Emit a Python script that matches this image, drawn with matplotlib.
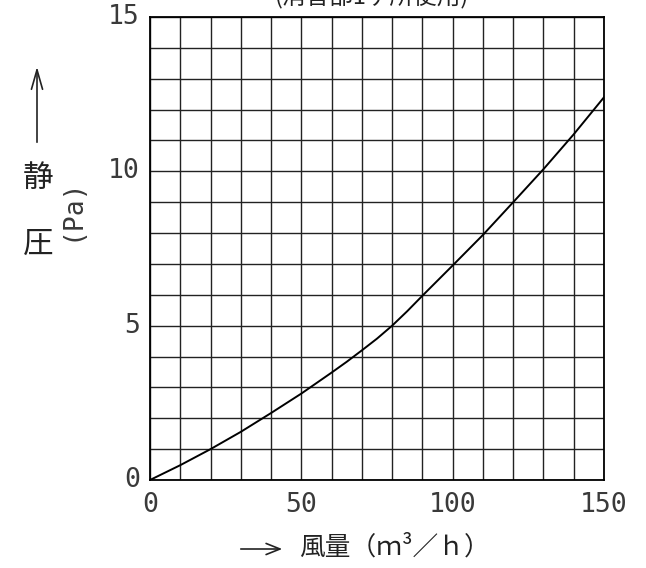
import matplotlib
matplotlib.use("Agg")
import matplotlib.pyplot as plt
import numpy as np

# Data
airflow = [0, 10, 20, 30, 40, 50, 60, 65, 70, 75, 80, 85, 90, 100, 110, 120, 130, 140, 150]
pressure = [0, 0.48, 1.0, 1.56, 2.17, 2.8, 3.48, 3.83, 4.2, 4.58, 5.0, 5.47, 5.97, 6.95, 7.94, 9.0, 10.07, 11.2, 12.4]
xticks = [0, 50, 100, 150]
yticks = [0, 5, 10, 15]
title_text = "(消音部1ヶ所使用)"
xlabel_text = "風量（ｍ³／ｈ）"
ylabel_chars = ["静", "圧"]
ylabel_unit = "(Pa)"

plt.rcParams['font.family'] = ['Noto Sans CJK JP', 'DejaVu Sans']

fig = plt.figure(figsize=(6.46, 5.68), dpi=100)
ax = fig.add_axes([150/646, 1-480/568, (604-150)/646, (480-17)/568])

ax.plot(airflow, pressure, color='black', lw=1.4, zorder=3)
ax.set_xlim(0, 150)
ax.set_ylim(0, 15)
ax.set_xticks(np.arange(0, 151, 10))
ax.set_yticks(np.arange(0, 16, 1))
ax.grid(True, color='#222222', lw=1.0)
ax.tick_params(length=0, labelleft=False, labelbottom=False)
for s in ax.spines.values():
    s.set_linewidth(1.3)
    s.set_color('black')

numfont = dict(family='DejaVu Sans Mono', fontsize=19, color='#3a3a3a')
for xv in xticks:
    ax.text(xv, -0.38, str(xv), ha='center', va='top', **numfont)
for yv in yticks:
    ax.text(-3.3, yv, str(yv), ha='right', va='center', **numfont)

# title (clipped at top, as in the reference)
fig.text(372/646, 1+3/568, title_text, ha='center', va='center', fontsize=17, color='#222222')

# x label with arrow
fig.text(299/646, 1-548/568, xlabel_text, ha='left', va='center', fontsize=18.5, color='#222222')
fig.patches.append(matplotlib.patches.FancyArrowPatch((238/646, 1-549/568), (285/646, 1-549/568),
    transform=fig.transFigure, arrowstyle='->,head_length=10,head_width=4', lw=1.2, color='#222222'))

# y label
fig.patches.append(matplotlib.patches.FancyArrowPatch((37/646, 1-145/568), (37/646, 1-64/568),
    transform=fig.transFigure, arrowstyle='->,head_length=14,head_width=4', lw=1.2, color='#222222'))
fig.text(38/646, 1-178/568, ylabel_chars[0], ha='center', va='center', fontsize=22, color='#222222')
fig.text(38/646, 1-244/568, ylabel_chars[1], ha='center', va='center', fontsize=22, color='#222222')
fig.text(72/646, 1-209/568, ylabel_unit, ha='center', va='center', rotation=90,
         family='DejaVu Sans Mono', fontsize=19, color='#3a3a3a')

fig.savefig("out.png", dpi=100)
